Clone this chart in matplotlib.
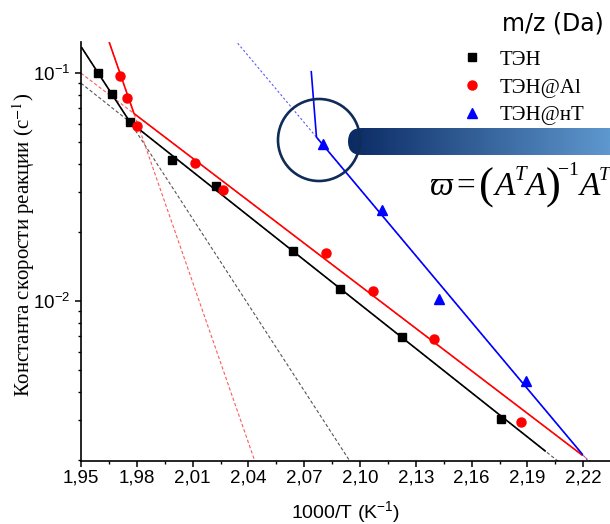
import numpy as np
import matplotlib
matplotlib.use("Agg")
import matplotlib.pyplot as plt
from matplotlib.patches import Ellipse, FancyBboxPatch
from matplotlib.colors import LinearSegmentedColormap
from matplotlib.lines import Line2D

plt.rcParams['font.family'] = ['Liberation Sans', 'DejaVu Sans']
plt.rcParams['mathtext.fontset'] = 'custom'
plt.rcParams['mathtext.rm'] = 'Liberation Sans'
plt.rcParams['mathtext.it'] = 'Liberation Sans:italic'
plt.rcParams['mathtext.bf'] = 'Liberation Sans:bold'

# ---------------- data ----------------
# ТЭН
ten_x = [1.959, 1.9667, 1.9763, 1.999, 2.0226, 2.064, 2.0892, 2.1228, 2.1758]
ten_k = [0.100, 0.081, 0.061, 0.0415, 0.0319, 0.01655, 0.01129, 0.00695, 0.00305]
# ТЭН@Al
al_x = [1.971, 1.9747, 1.980, 2.0113, 2.0263, 2.0817, 2.1068, 2.1398, 2.1866]
al_k = [0.097, 0.078, 0.0587, 0.0403, 0.0307, 0.01625, 0.01104, 0.00679, 0.00294]
# ТЭН@нТ
nt_x = [2.0801, 2.1118, 2.1425, 2.1891]
nt_k = [0.0489, 0.02506, 0.01023, 0.00446]

# two-segment Arrhenius fits: start, knee, end
ten_fit_x = [1.9505, 1.9763, 2.1995]
ten_fit_k = [0.1288, 0.0610, 0.00220]
al_fit_x = [1.9653, 1.9785, 2.2194]
al_fit_k = [0.1355, 0.0664, 0.00211]
nt_fit_x = [2.0738, 2.0766, 2.2195]
nt_fit_k = [0.1013, 0.0523, 0.00213]

series_labels = ['ТЭН', 'ТЭН@Al', 'ТЭН@нТ']

xticks = [1.95, 1.98, 2.01, 2.04, 2.07, 2.10, 2.13, 2.16, 2.19, 2.22]
xtick_labels = ['1,95', '1,98', '2,01', '2,04', '2,07', '2,10', '2,13', '2,16', '2,19', '2,22']
yticks = [0.1, 0.01]
ytick_labels = [r'$10^{-1}$', r'$10^{-2}$']

xlim = (1.95, 2.2344)
ylim = (0.001987, 0.1368)

# ---------------- figure ----------------
W, H = 610, 524
fig = plt.figure(figsize=(W / 100, H / 100), dpi=100)
ax = fig.add_axes([81 / W, 1 - 461 / H, (W - 81) / W, (461 - 42) / H])
ax.set_yscale('log')
ax.set_xlim(*xlim)
ax.set_ylim(*ylim)

def seg_line(xs, ks, i):
    x0, x1 = xs[i], xs[i + 1]
    l0, l1 = np.log10(ks[i]), np.log10(ks[i + 1])
    slope = (l1 - l0) / (x1 - x0)
    return x0, l0, slope

def draw_fit(xs, ks, color, dcolor, dash, dashed_segs):
    xx = np.linspace(xlim[0], xlim[1], 400)
    for i in range(2):
        x0, l0, s = seg_line(xs, ks, i)
        if i in dashed_segs:
            ax.plot(xx, 10 ** (l0 + s * (xx - x0)), color=dcolor, lw=0.8,
                    dashes=dash, zorder=2)
    ax.plot(xs, ks, color=color, lw=1.2, zorder=3)

draw_fit(ten_fit_x, ten_fit_k, 'black', '#555555', (3, 2), [0, 1])
draw_fit(al_fit_x, al_fit_k, '#ff0000', '#ff5a5a', (3, 2), [0, 1])
draw_fit(nt_fit_x, nt_fit_k, '#0000ff', '#5a5aff', (2, 2), [1])

ax.plot(ten_x, ten_k, 's', color='black', ms=6, zorder=4, ls='none')
ax.plot(al_x, al_k, 'o', color='#ff0000', ms=6.5, zorder=4, ls='none')
ax.plot(nt_x, nt_k, '^', color='#0000ff', ms=7, zorder=4, ls='none')

ax.spines['top'].set_visible(False)
ax.spines['right'].set_visible(False)
for s in ['left', 'bottom']:
    ax.spines[s].set_linewidth(1.2)

ax.set_xticks(xticks)
ax.set_xticklabels(xtick_labels)
ax.set_xticks(np.array(xticks[:-1]) + 0.015, minor=True)
ax.set_yticks(yticks)
ax.set_yticklabels(ytick_labels)
ax.tick_params(axis='both', which='major', direction='out', length=4.5, width=1.1,
               labelsize=13.5)
ax.tick_params(axis='x', which='major', pad=1.5)
ax.tick_params(axis='y', which='major', pad=3)
ax.tick_params(axis='both', which='minor', direction='out', length=2.5, width=1.0)
ax.yaxis.set_minor_formatter(matplotlib.ticker.NullFormatter())

ax.set_xlabel(r'1000/T (K$^{-1}$)', fontsize=14, labelpad=9)
ax.set_ylabel('Константа скорости реакции (с$^{-1}$)', fontsize=15,
              family=['Liberation Serif'], math_fontfamily='stix')
ax.yaxis.set_label_coords((37 - 81) / (W - 81), 0.515)

# legend
handles = [Line2D([], [], marker='s', color='black', ls='none', ms=6),
           Line2D([], [], marker='o', color='#ff0000', ls='none', ms=6.5),
           Line2D([], [], marker='^', color='#0000ff', ls='none', ms=7)]
leg = ax.legend(handles, series_labels, loc='upper left',
                bbox_to_anchor=(462 / W, 1 - 50 / H), bbox_transform=fig.transFigure,
                frameon=False, handlelength=1.0, handletextpad=0.8,
                borderpad=0, borderaxespad=0, labelspacing=0.4,
                prop={'family': 'Liberation Serif', 'size': 15})
fig.text(502 / W, 1 - 24 / H, 'm/z (Da)', fontsize=17, family='DejaVu Sans',
         ha='left', va='center')

# circle highlight
circ = Ellipse((319 / W, 1 - 140 / H), 82 / W, 82 / H, transform=fig.transFigure,
               fill=False, ec='#0f2b57', lw=1.9, zorder=10)
fig.add_artist(circ)

# gradient bar
bx = fig.add_axes([348 / W, 1 - 155 / H, 280 / W, 27 / H])
bx.axis('off')
cmap = LinearSegmentedColormap.from_list('bar', ['#0b2a64', '#5e98ce'])
grad = np.linspace(0, 1, 256).reshape(1, -1)
im = bx.imshow(grad, extent=(0, 262, 0, 27), aspect='auto', cmap=cmap)
bx.set_xlim(0, 280)
bx.set_ylim(0, 27)
patch = FancyBboxPatch((0, 0), 320, 27, boxstyle='round,pad=0,rounding_size=13.5',
                       transform=bx.transData, fc='none', ec='none')
bx.add_patch(patch)
im.set_clip_path(patch)

# formula pieces: (text, left px, baseline px, size, italic)
serif = ['Liberation Serif', 'DejaVu Serif']
formula_parts = [
    ('ϖ', 429, 195, 24, True),
    ('=', 456, 195, 24, False),
    ('(', 479, 199, 32, False),
    ('A', 495, 195, 24, True),
    ('T', 515, 180, 15, True),
    ('A', 526, 195, 24, True),
    (')', 546, 199, 32, False),
    ('−1', 558, 175, 14, False),
    ('A', 580, 195, 24, True),
    ('T', 599, 180, 14, True),
]
for txt, px, py, fs, it in formula_parts:
    fig.text(px / W, 1 - py / H, txt, fontsize=fs, family=serif,
             style='italic' if it else 'normal', ha='left', va='baseline')

fig.savefig('out.png', dpi=100)
